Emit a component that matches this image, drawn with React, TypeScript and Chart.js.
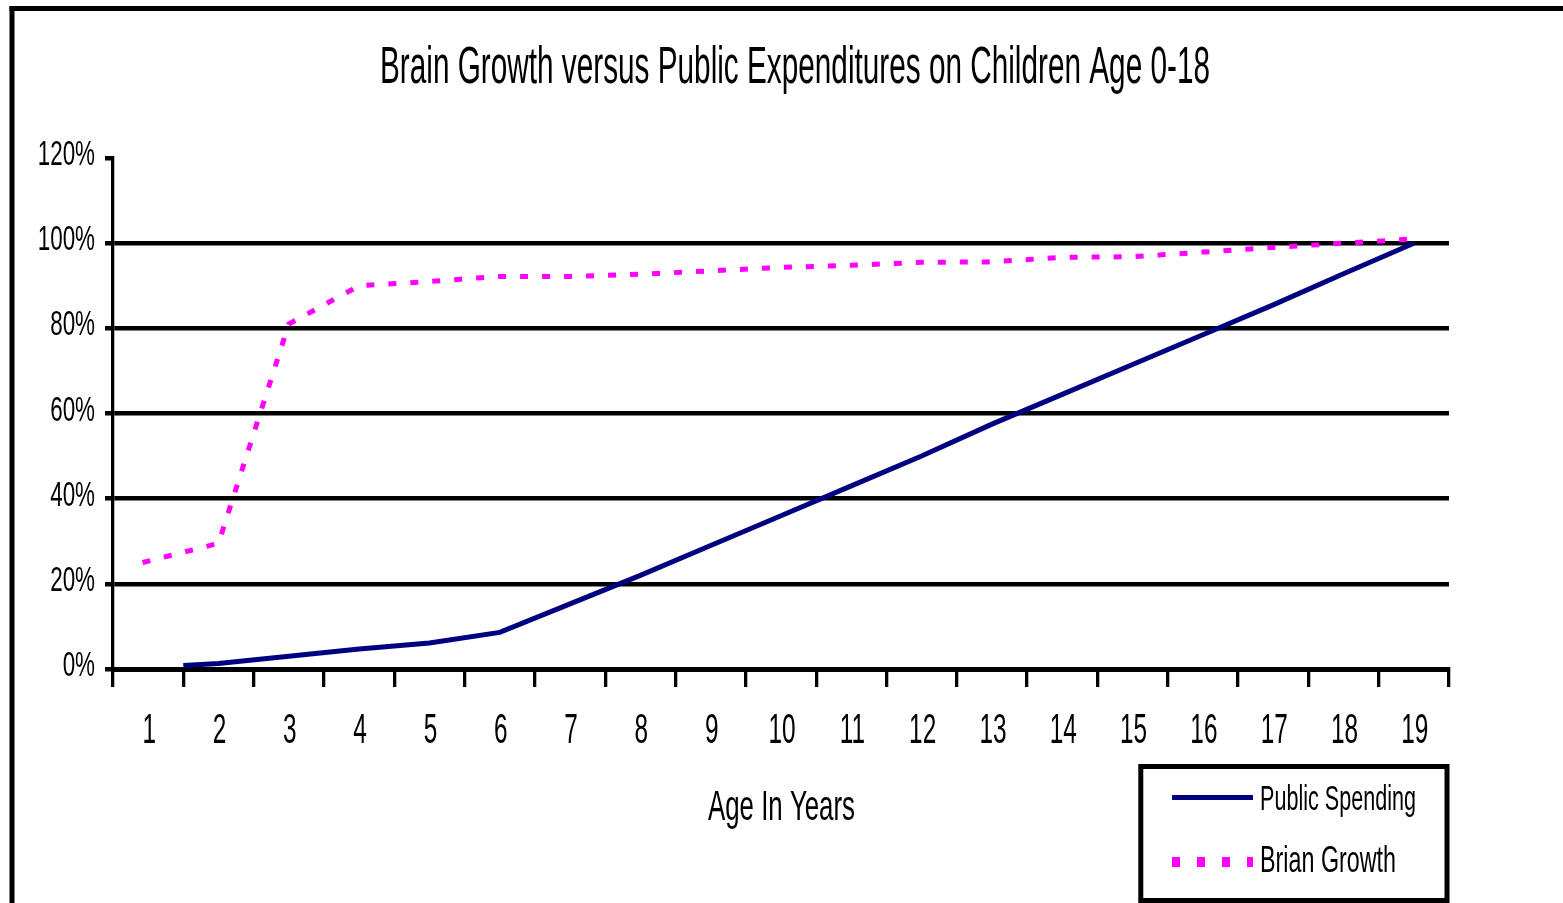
import React, { useEffect, useRef } from 'react';
import { Chart, registerables } from 'chart.js';

Chart.register(...registerables);

// ---- Data ----
const ageValues = [1, 2, 3, 4, 5, 6, 7, 8, 9, 10, 11, 12, 13, 14, 15, 16, 17, 18, 19];
const ageLabels = ageValues.map((v) => String(v));
const yTickValues = [0, 20, 40, 60, 80, 100, 120];

const spendingAges = [1.5, 2, 3, 4, 5, 6, 7, 8, 9, 10, 11, 12, 13, 14, 15, 16, 17, 18, 19];
const spendingPct = [0.8, 1.3, 3.0, 4.7, 6.1, 8.6, 15.3, 22, 29, 36, 43, 50, 57.5, 64.5, 71.5, 78.5, 85.5, 92.8, 100];

const brainAges = [0.92, 2, 3, 4, 5, 6, 7, 8, 9, 10, 11, 12, 13, 14, 15, 16, 17, 18, 19];
const brainPct = [25, 29.5, 81, 90, 91, 92.2, 92.2, 92.7, 93.5, 94.3, 94.8, 95.5, 95.6, 96.7, 96.8, 97.9, 99, 100, 101];

const titleText = 'Brain Growth versus Public Expenditures on Children Age 0-18';
const xAxisTitle = 'Age In Years';
const seriesLabels = ['Public Spending', 'Brian Growth'];
const seriesColors = ['#000080', '#FF00FF'];

const FONT = '"Liberation Sans", Arial, "DejaVu Sans", sans-serif';

function squeezedText(
  ctx: CanvasRenderingContext2D,
  text: string,
  x: number,
  y: number,
  size: number,
  align: CanvasTextAlign,
  opts: { scaleX?: number; width?: number }
) {
  ctx.save();
  ctx.font = `${size}px ${FONT}`;
  const w = ctx.measureText(text).width;
  const sx = opts.width ? opts.width / w : opts.scaleX || 1;
  ctx.translate(x, y);
  ctx.scale(sx, 1);
  ctx.textAlign = align;
  ctx.textBaseline = 'alphabetic';
  ctx.fillStyle = '#000';
  ctx.fillText(text, 0, 0);
  ctx.restore();
}

const decorPlugin = {
  id: 'decor',
  afterDraw(chart: any) {
    const ctx: CanvasRenderingContext2D = chart.ctx;
    const xs = chart.scales.x;
    const ys = chart.scales.y;

    // outer frame (left + top edges visible)
    ctx.save();
    ctx.fillStyle = '#000';
    ctx.fillRect(9.5, 6, 5, 903);
    ctx.fillRect(9.5, 6, 1563, 5);
    ctx.restore();

    // title
    squeezedText(ctx, titleText, 795, 83, 51, 'center', { width: 830 });

    // y tick labels
    yTickValues.forEach((v) => {
      const py = ys.getPixelForValue(v);
      squeezedText(ctx, `${v}%`, 95, py + 7, 35, 'right', { scaleX: 0.64 });
    });

    // x tick labels
    ageValues.forEach((v, i) => {
      const px = xs.getPixelForValue(v);
      squeezedText(ctx, ageLabels[i], px + 1, 743, 42, 'center', { scaleX: 0.58 });
    });

    // axis title
    squeezedText(ctx, xAxisTitle, 781.5, 820, 42, 'center', { width: 147 });

    // legend
    ctx.save();
    ctx.strokeStyle = '#000';
    ctx.lineWidth = 5;
    ctx.strokeRect(1140.8, 766.5, 306.2, 134);
    // public spending sample
    ctx.strokeStyle = chart.data.datasets[0].borderColor;
    ctx.lineWidth = 5;
    ctx.beginPath();
    ctx.moveTo(1172, 797.5);
    ctx.lineTo(1253, 797.5);
    ctx.stroke();
    // brain growth sample
    ctx.strokeStyle = chart.data.datasets[1].borderColor;
    ctx.lineWidth = 10;
    ctx.setLineDash([8, 17]);
    ctx.lineDashOffset = 0;
    ctx.beginPath();
    ctx.moveTo(1172, 862);
    ctx.lineTo(1253, 862);
    ctx.stroke();
    ctx.restore();

    squeezedText(ctx, chart.data.datasets[0].label, 1260, 810, 35, 'left', { width: 156 });
    squeezedText(ctx, chart.data.datasets[1].label, 1260, 872, 36, 'left', { width: 136 });
  },
};

export default function App() {
  const canvasRef = useRef<HTMLCanvasElement | null>(null);

  useEffect(() => {
    const canvas = canvasRef.current;
    if (!canvas) return;
    const tickBounds = [ageValues[0] - 0.5, ...ageValues.map((v) => v + 0.5)];

    const chart = new Chart(canvas, {
      type: 'line',
      data: {
        datasets: [
          {
            label: seriesLabels[0],
            data: spendingAges.map((a, i) => ({ x: a, y: spendingPct[i] })),
            borderColor: seriesColors[0],
            backgroundColor: seriesColors[0],
            borderWidth: 5,
            pointRadius: 0,
            tension: 0,
            borderCapStyle: 'butt',
            fill: false,
          },
          {
            label: seriesLabels[1],
            data: brainAges.map((a, i) => ({ x: a, y: brainPct[i] })),
            borderColor: seriesColors[1],
            backgroundColor: seriesColors[1],
            borderWidth: 5,
            borderDash: [8, 14],
            pointRadius: 0,
            tension: 0,
            borderCapStyle: 'butt',
            fill: false,
          },
        ],
      },
      options: {
        animation: false,
        responsive: false,
        devicePixelRatio: 1,
        layout: { padding: { top: 158, right: 114, bottom: 0, left: 0 } },
        plugins: {
          legend: { display: false },
          title: { display: false },
          tooltip: { enabled: false },
        },
        scales: {
          x: {
            type: 'linear',
            min: tickBounds[0],
            max: tickBounds[tickBounds.length - 1],
            afterBuildTicks: (s: any) => {
              s.ticks = tickBounds.map((v) => ({ value: v }));
            },
            ticks: { display: false },
            grid: {
              drawOnChartArea: false,
              drawTicks: true,
              color: '#000',
              lineWidth: 3.3,
              tickWidth: 3.3,
              tickLength: 18,
            },
            border: { display: true, color: '#000', width: 5 },
            afterFit: (s: any) => {
              s.height = 234;
            },
          },
          y: {
            type: 'linear',
            min: yTickValues[0],
            max: yTickValues[yTickValues.length - 1],
            afterBuildTicks: (s: any) => {
              s.ticks = yTickValues.map((v) => ({ value: v }));
            },
            ticks: { display: false },
            grid: {
              color: (c: any) =>
                c.tick && c.tick.value === yTickValues[yTickValues.length - 1] ? 'rgba(0,0,0,0)' : '#000',
              tickColor: '#000',
              lineWidth: 4.5,
              tickWidth: 4.5,
              tickLength: 8,
              drawTicks: true,
            },
            border: { display: true, color: '#000', width: 3.3 },
            afterFit: (s: any) => {
              s.width = 113;
            },
          },
        },
      },
      plugins: [decorPlugin],
    } as any);

    return () => {
      chart.destroy();
    };
  }, []);

  return (
    <div style={{ position: 'fixed', left: 0, top: 0, width: 1563, height: 903, background: '#fff' }}>
      <canvas ref={canvasRef} width={1563} height={903} style={{ display: 'block', width: 1563, height: 903 }} />
    </div>
  );
}
